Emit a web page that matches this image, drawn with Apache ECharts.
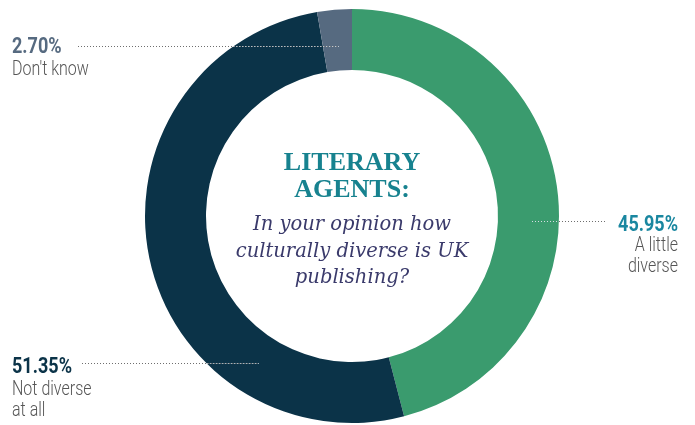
<!DOCTYPE html>
<html>
<head>
<meta charset="utf-8">
<script src="https://cdn.jsdelivr.net/npm/echarts@6/dist/echarts.min.js"></script>
<style>html,body{margin:0;padding:0;background:#fff;}#c{width:695px;height:425px;}</style>
</head>
<body>
<div id="c"></div>
<script>
const categories = ['A little\ndiverse', 'Not diverse\nat all', "Don't know"];
const values = [45.95, 51.35, 2.70];
const colors = ['#3a9b6e', '#0b3348', '#566a80'];
const pctColors = ['#1a87a0', '#0b3348', '#566a80'];
const titleLines = ['LITERARY', 'AGENTS:'];
const questionLines = ['In your opinion how', 'culturally diverse is UK', 'publishing?'];

// layout only: label anchors and leader lines (x1, x2, y)
const labelLayoutCfg = [
  { x: 678, align: 'right', pctY: 225, nameY: [245.5, 266.5], line: [532, 606, 221.5] },
  { x: 12, align: 'left', pctY: 367.5, nameY: [390, 411], line: [82, 259, 363.5] },
  { x: 12, align: 'left', pctY: 47.5, nameY: [70], line: [78, 339, 46.5] }
];

const centerX = 352, centerY = 216, rIn = 146, rOut = 207;
const chart = echarts.init(document.getElementById('c'), null, { renderer: 'canvas' });

const graphics = [];
titleLines.forEach((t, i) => {
  graphics.push({
    type: 'text', x: centerX, y: 163 + i * 27,
    style: { text: t, fill: '#17828f', font: "bold 26px 'Liberation Serif', serif", textAlign: 'center', textVerticalAlign: 'middle' }
  });
});
questionLines.forEach((t, i) => {
  graphics.push({
    type: 'text', x: centerX, y: 225 + i * 26.5,
    style: { text: t, fill: '#3a3a6b', font: "italic 19.5px 'DejaVu Serif', serif", textAlign: 'center', textVerticalAlign: 'middle' }
  });
});

// labels (text from data arrays)
categories.forEach((c, i) => {
  const cfg = labelLayoutCfg[i];
  graphics.push({
    type: 'text', x: cfg.x, y: cfg.pctY, scaleX: 0.82, z: 50,
    style: { text: values[i].toFixed(2) + '%', fill: pctColors[i], font: "bold 22px Roboto, sans-serif",
             textAlign: cfg.align, textVerticalAlign: 'middle' }
  });
  c.split('\n').forEach((ln, j) => {
    graphics.push({
      type: 'text', x: cfg.x, y: cfg.nameY[j], scaleX: 0.8, z: 50,
      style: { text: ln, fill: '#555555', font: "300 20px Roboto, sans-serif",
               textAlign: cfg.align, textVerticalAlign: 'middle' }
    });
  });
  // leader line
  const [x1, x2, y] = cfg.line;
  graphics.push({
    type: 'line', z: 40,
    shape: { x1: x1, y1: y, x2: x2, y2: y },
    style: { stroke: '#6e6e6e', lineWidth: 1, lineDash: [1, 2] }
  });
  // light part of the leader line over the ring
  const dx = Math.sqrt(rOut * rOut - (y - centerY) * (y - centerY));
  let a, b;
  if (cfg.align === 'left') { a = Math.max(x1, centerX - dx); b = x2; }
  else { a = x1; b = Math.min(x2, centerX + dx); }
  if (b > a) {
    graphics.push({
      type: 'line', z: 45,
      shape: { x1: a, y1: y, x2: b, y2: y },
      style: { stroke: '#d5dde3', lineWidth: 1, lineDash: [1, 2] }
    });
  }
});

chart.setOption({
  animation: false,
  graphic: graphics,
  series: [{
    type: 'pie',
    center: [centerX, centerY],
    radius: [rIn, rOut],
    startAngle: 90,
    clockwise: true,
    data: categories.map((c, i) => ({ name: c, value: values[i], itemStyle: { color: colors[i] } })),
    emphasis: { disabled: true },
    label: { show: false },
    labelLine: { show: false }
  }]
});
</script>
</body>
</html>
